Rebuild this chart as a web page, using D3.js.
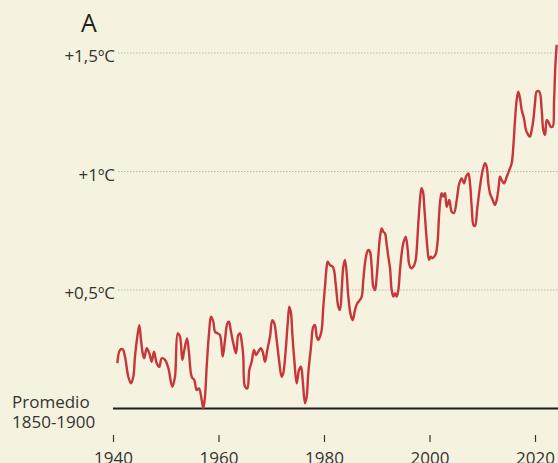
<!DOCTYPE html>
<html>
<head>
<meta charset="utf-8">
<script src="https://cdn.jsdelivr.net/npm/d3@7"></script>
<style>
  html, body { margin: 0; padding: 0; background: #f5f3df; }
  svg { display: block; }
  text { font-family: "Open Sans", "Noto Sans", sans-serif; fill: #333; }
</style>
</head>
<body>
<svg id="chart" width="558" height="463"></svg>
<script>
// ---- data (anomaly vs 1850-1900 average, ºC) ----
const years = [
  1940.82,1941.33,1941.84,1942.27,1942.90,1943.41,1943.85,1944.17,1944.61,1944.99,
  1945.31,1945.63,1945.93,1946.39,1946.88,1947.34,1947.77,1948.28,1948.78,1949.23,
  1949.86,1950.48,1951.24,1951.75,1952.27,1952.70,1953.14,1953.52,1954.03,1954.41,
  1954.92,1955.41,1955.87,1956.30,1956.82,1957.12,1957.44,1957.76,1958.20,1958.58,
  1959.01,1959.34,1959.85,1960.28,1960.80,1961.23,1961.67,1961.99,1962.31,1962.81,
  1963.32,1963.75,1964.08,1964.40,1964.70,1965.02,1965.46,1965.84,1966.29,1966.73,
  1967.11,1967.55,1968.00,1968.38,1968.82,1969.25,1969.76,1970.20,1970.58,1971.03,
  1971.47,1971.98,1972.28,1972.74,1973.12,1973.42,1973.74,1973.99,1974.37,1974.82,
  1975.26,1975.64,1975.96,1976.40,1976.72,1977.02,1977.54,1977.97,1978.29,1978.62,
  1978.92,1979.24,1979.56,1979.87,1980.19,1980.51,1980.70,1981.14,1981.65,1981.90,
  1982.27,1982.71,1983.03,1983.36,1983.66,1983.98,1984.30,1984.61,1985.06,1985.44,
  1985.88,1986.31,1986.82,1987.15,1987.45,1987.77,1988.10,1988.40,1988.72,1989.04,
  1989.35,1989.67,1989.99,1990.29,1990.62,1990.94,1991.24,1991.56,1991.89,1992.19,
  1992.51,1992.83,1993.14,1993.46,1993.78,1994.09,1994.41,1994.73,1995.03,1995.49,
  1995.87,1996.11,1996.49,1996.93,1997.38,1997.57,1997.88,1998.20,1998.48,1998.77,
  1999.01,1999.28,1999.58,1999.91,2000.23,2000.53,2000.91,2001.23,2001.56,2001.80,
  2002.05,2002.31,2002.62,2002.94,2003.26,2003.75,2004.21,2004.64,2005.16,2005.65,
  2006.10,2006.54,2006.92,2007.36,2007.68,2008.00,2008.34,2008.63,2009.06,2009.57,
  2010.09,2010.52,2010.84,2011.15,2011.47,2011.98,2012.42,2012.74,2013.12,2013.36,
  2013.69,2014.12,2014.64,2015.13,2015.58,2015.89,2016.21,2016.53,2016.83,2017.16,
  2017.48,2017.91,2018.29,2018.73,2019.05,2019.37,2019.68,2020.00,2020.32,2020.82,
  2021.27,2021.57,2021.90,2022.22,2022.52,2022.98,2023.36,2023.60,2023.85,2024.11
];
const anomalies = [
  0.191,0.247,0.250,0.219,0.134,0.106,0.134,0.219,0.303,0.352,
  0.289,0.233,0.212,0.254,0.233,0.197,0.240,0.191,0.176,0.212,
  0.205,0.171,0.092,0.134,0.317,0.303,0.205,0.247,0.296,0.233,
  0.134,0.120,0.078,0.085,0.036,0.001,0.050,0.176,0.317,0.387,
  0.366,0.324,0.317,0.310,0.219,0.289,0.359,0.366,0.331,0.275,
  0.233,0.310,0.317,0.282,0.219,0.092,0.085,0.162,0.197,0.247,
  0.226,0.240,0.254,0.240,0.197,0.247,0.303,0.373,0.359,0.289,
  0.205,0.134,0.149,0.247,0.359,0.430,0.402,0.317,0.205,0.106,
  0.162,0.176,0.120,0.022,0.050,0.149,0.261,0.345,0.352,0.303,
  0.289,0.303,0.331,0.430,0.514,0.598,0.619,0.605,0.598,0.584,
  0.514,0.430,0.416,0.500,0.598,0.627,0.570,0.472,0.395,0.373,
  0.416,0.444,0.458,0.472,0.542,0.613,0.655,0.669,0.662,0.598,
  0.514,0.500,0.556,0.641,0.725,0.760,0.746,0.739,0.690,0.641,
  0.593,0.500,0.472,0.486,0.472,0.500,0.584,0.655,0.697,0.725,
  0.669,0.613,0.592,0.598,0.627,0.669,0.781,0.880,0.930,0.914,
  0.851,0.767,0.683,0.627,0.641,0.634,0.641,0.655,0.711,0.809,
  0.880,0.908,0.894,0.908,0.851,0.880,0.830,0.825,0.880,0.950,
  0.971,0.950,0.978,0.992,0.950,0.851,0.774,0.770,0.846,0.936,
  1.006,1.035,1.020,0.950,0.908,0.880,0.859,0.880,0.936,0.978,
  0.964,0.950,0.978,1.006,1.035,1.105,1.217,1.302,1.337,1.309,
  1.259,1.224,1.175,1.154,1.147,1.175,1.217,1.288,1.337,1.337,
  1.259,1.175,1.154,1.217,1.210,1.189,1.189,1.288,1.442,1.534
];
const xTickYears = [1940, 1960, 1980, 2000, 2020];
const gridValues = [0.5, 1, 1.5];
const gridLabels = ["+0,5ºC", "+1ºC", "+1,5ºC"];
const baselineLabel = ["Promedio", "1850-1900"];
const panelLetter = "A";

// ---- drawing ----
const W = 558, H = 463;
const svg = d3.select("#chart");

const x = d3.scaleLinear().domain([1940, 2020]).range([113, 535]);
const y = d3.scaleLinear().domain([0, 1.5]).range([408.5, 53]);

// gridlines
svg.append("g").selectAll("line")
  .data(gridValues)
  .join("line")
  .attr("x1", 118).attr("x2", W)
  .attr("y1", d => y(d)).attr("y2", d => y(d))
  .attr("stroke", "#a9a9a2")
  .attr("stroke-width", 0.8)
  .attr("stroke-dasharray", "1.5,1.5");

// grid labels
svg.append("g").selectAll("text")
  .data(gridValues)
  .join("text")
  .attr("x", 115)
  .attr("y", d => y(d) + 9)
  .attr("text-anchor", "end")
  .attr("font-size", 17)
  .text((d, i) => gridLabels[i]);

// baseline (0 = 1850-1900 average)
svg.append("line")
  .attr("x1", x(1940)).attr("x2", W)
  .attr("y1", y(0)).attr("y2", y(0))
  .attr("stroke", "#1e1e1e")
  .attr("stroke-width", 2);

svg.append("g").selectAll("text")
  .data(baselineLabel)
  .join("text")
  .attr("x", 12)
  .attr("y", (d, i) => 408 + i * 20)
  .attr("font-size", 17)
  .text(d => d);

// series
const pts = years.map((yr, i) => [yr, anomalies[i]]);
const line = d3.line()
  .x(d => x(d[0]))
  .y(d => y(d[1]))
  .curve(d3.curveCatmullRom.alpha(0.5));

svg.append("path")
  .datum(pts)
  .attr("fill", "none")
  .attr("stroke", "#c6363a")
  .attr("stroke-width", 2.4)
  .attr("stroke-linejoin", "round")
  .attr("d", line);

// x axis
const xAxis = d3.axisBottom(x)
  .tickValues(xTickYears)
  .tickFormat(d3.format("d"))
  .tickSize(7)
  .tickPadding(10);

const gx = svg.append("g")
  .attr("transform", "translate(0,435)")
  .call(xAxis);
gx.select(".domain").remove();
gx.selectAll(".tick line").attr("stroke", "#333").attr("stroke-width", 1.2);
gx.selectAll(".tick text")
  .attr("font-size", 17)
  .attr("font-family", "\"Open Sans\", \"Noto Sans\", sans-serif")
  .attr("fill", "#333");

// panel letter
svg.append("text")
  .attr("x", 89)
  .attr("y", 32)
  .attr("text-anchor", "middle")
  .attr("font-size", 25)
  .style("fill", "#222")
  .text(panelLetter);
</script>
</body>
</html>
